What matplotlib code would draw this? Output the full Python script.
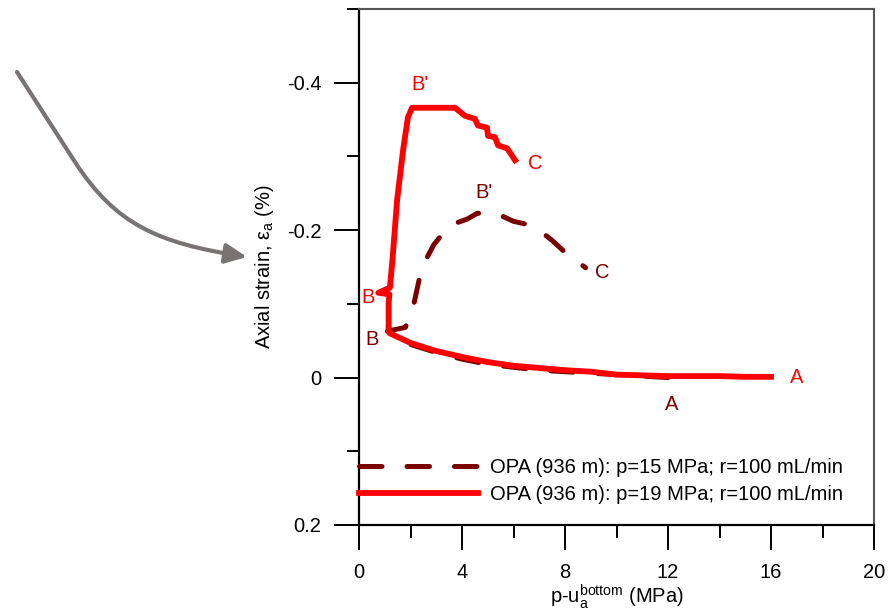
import matplotlib
matplotlib.use('Agg')
import matplotlib.pyplot as plt
from matplotlib.patches import FancyArrowPatch
from matplotlib.path import Path

plt.rcParams['font.family'] = ['Liberation Sans', 'DejaVu Sans']
plt.rcParams['mathtext.fontset'] = 'custom'
plt.rcParams['mathtext.rm'] = 'Liberation Sans'
plt.rcParams['mathtext.it'] = 'Liberation Sans:italic'
plt.rcParams['axes.unicode_minus'] = False

# p = 19 MPa test (bright red), path A -> B -> B' -> C
red_x = [16.0, 15.0, 14.0, 13.0, 12.0, 11.0, 10.0, 9.5, 9.0, 8.0, 7.0, 6.0, 5.0, 4.0,
         3.0, 2.0, 1.2, 1.15, 1.15, 1.18, 0.75, 1.2, 1.3, 1.48, 1.71, 1.9, 2.06,
         3.0, 3.73, 4.12, 4.50, 4.62, 4.97, 5.01, 5.28, 5.40, 5.75, 6.06]
red_y = [-0.001, -0.001, -0.002, -0.002, -0.002, -0.003, -0.004, -0.006, -0.008, -0.010,
         -0.013, -0.016, -0.021, -0.028, -0.036, -0.047, -0.060, -0.064, -0.100, -0.113,
         -0.115, -0.122, -0.160, -0.241, -0.308, -0.353, -0.366,
         -0.366, -0.366, -0.355, -0.351, -0.342, -0.339, -0.328, -0.326, -0.315, -0.311,
         -0.295]

# p = 15 MPa test (dark red)
dark_x = [12.0, 11.0, 10.0, 9.0, 8.0, 7.0, 6.0, 5.0, 4.0, 3.0, 2.0, 1.1, 1.8, 2.1,
          2.35, 2.6, 2.9, 3.2, 3.5, 3.8, 4.2, 4.6, 5.0, 5.5, 6.0, 6.5, 7.0, 7.5, 8.0, 8.8]
dark_y = [0.0, -0.002, -0.004, -0.006, -0.008, -0.010, -0.014, -0.018, -0.025, -0.034,
          -0.045, -0.063, -0.068, -0.095, -0.135, -0.160, -0.180, -0.193, -0.205, -0.210,
          -0.215, -0.223, -0.222, -0.220, -0.212, -0.208, -0.200, -0.186, -0.170, -0.149]

red_labels = [("B'", 2.37, -0.397), ("C", 6.83, -0.291), ("B", 0.35, -0.109), ("A", 17.0, 0.0)]
dark_labels = [("B'", 4.85, -0.251), ("C", 9.44, -0.142), ("B", 0.5, -0.051), ("A", 12.16, 0.036)]

x_ticks = [0, 4, 8, 12, 16, 20]
y_ticks = [-0.4, -0.2, 0, 0.2]
y_tick_labels = ['-0.4', '-0.2', '0', '0.2']

RED = '#ff0000'
DARK = '#7a0000'
FS = 14.5

fig = plt.figure(figsize=(8.9, 6.13), dpi=100)
ax = fig.add_axes([359 / 890, 1 - 525 / 613, (874 - 359) / 890, (525 - 9) / 613])

ax.plot(dark_x, dark_y, color=DARK, lw=3.6, linestyle=(0, (4.5, 5)),
        dash_capstyle='round', solid_capstyle='round',
        label='OPA (936 m): p=15 MPa; r=100 mL/min')
ax.plot(red_x, red_y, color=RED, lw=4.2, solid_joinstyle='round',
        label='OPA (936 m): p=19 MPa; r=100 mL/min')

for t, x, y in red_labels:
    ax.text(x, y, t, color=RED, fontsize=FS, ha='center', va='center')
for t, x, y in dark_labels:
    ax.text(x, y, t, color=DARK, fontsize=FS, ha='center', va='center')

ax.set_xlim(0, 20)
ax.set_ylim(0.2, -0.5)
ax.set_xticks(x_ticks)
ax.set_xticks([2, 6, 10, 14, 18], minor=True)
ax.set_yticks(y_ticks, y_tick_labels)
ax.set_yticks([-0.5, -0.3, -0.1, 0.1], minor=True)
ax.tick_params(which='major', direction='out', length=18, width=1.4, labelsize=FS, pad=9)
ax.tick_params(which='minor', direction='out', length=9, width=1.4)

for s in ['left', 'bottom']:
    ax.spines[s].set_linewidth(1.6)
    ax.spines[s].set_color('black')
for s in ['top', 'right']:
    ax.spines[s].set_linewidth(1.5)
    ax.spines[s].set_color('#555555')

ax.set_xlabel(r'p-u$_\mathrm{a}^\mathrm{bottom}$ (MPa)', fontsize=FS, labelpad=0.5)
ax.set_ylabel(r'Axial strain, ε$_\mathrm{a}$ (%)', fontsize=FS, labelpad=8)

ax.legend(loc='lower left', bbox_to_anchor=(0.0, 0.04), frameon=False, fontsize=FS,
          handlelength=5.9, handletextpad=0.6, labelspacing=0.4, borderpad=0,
          borderaxespad=0)

# curved pointer towards the y label (pixel coords, y down)
arrow_px = [(17, 72), (75, 162), (115.9, 224.9), (158, 243), (247, 257)]
verts = [(x / 890, 1 - y / 613) for x, y in arrow_px]
codes = [Path.MOVETO, Path.LINETO, Path.CURVE4, Path.CURVE4, Path.CURVE4]
arrow = FancyArrowPatch(path=Path(verts, codes), transform=fig.transFigure,
                        arrowstyle='-|>,head_length=1.3,head_width=0.6',
                        mutation_scale=10, lw=3, color='#787474')
fig.add_artist(arrow)

fig.savefig('out.png', dpi=100)
